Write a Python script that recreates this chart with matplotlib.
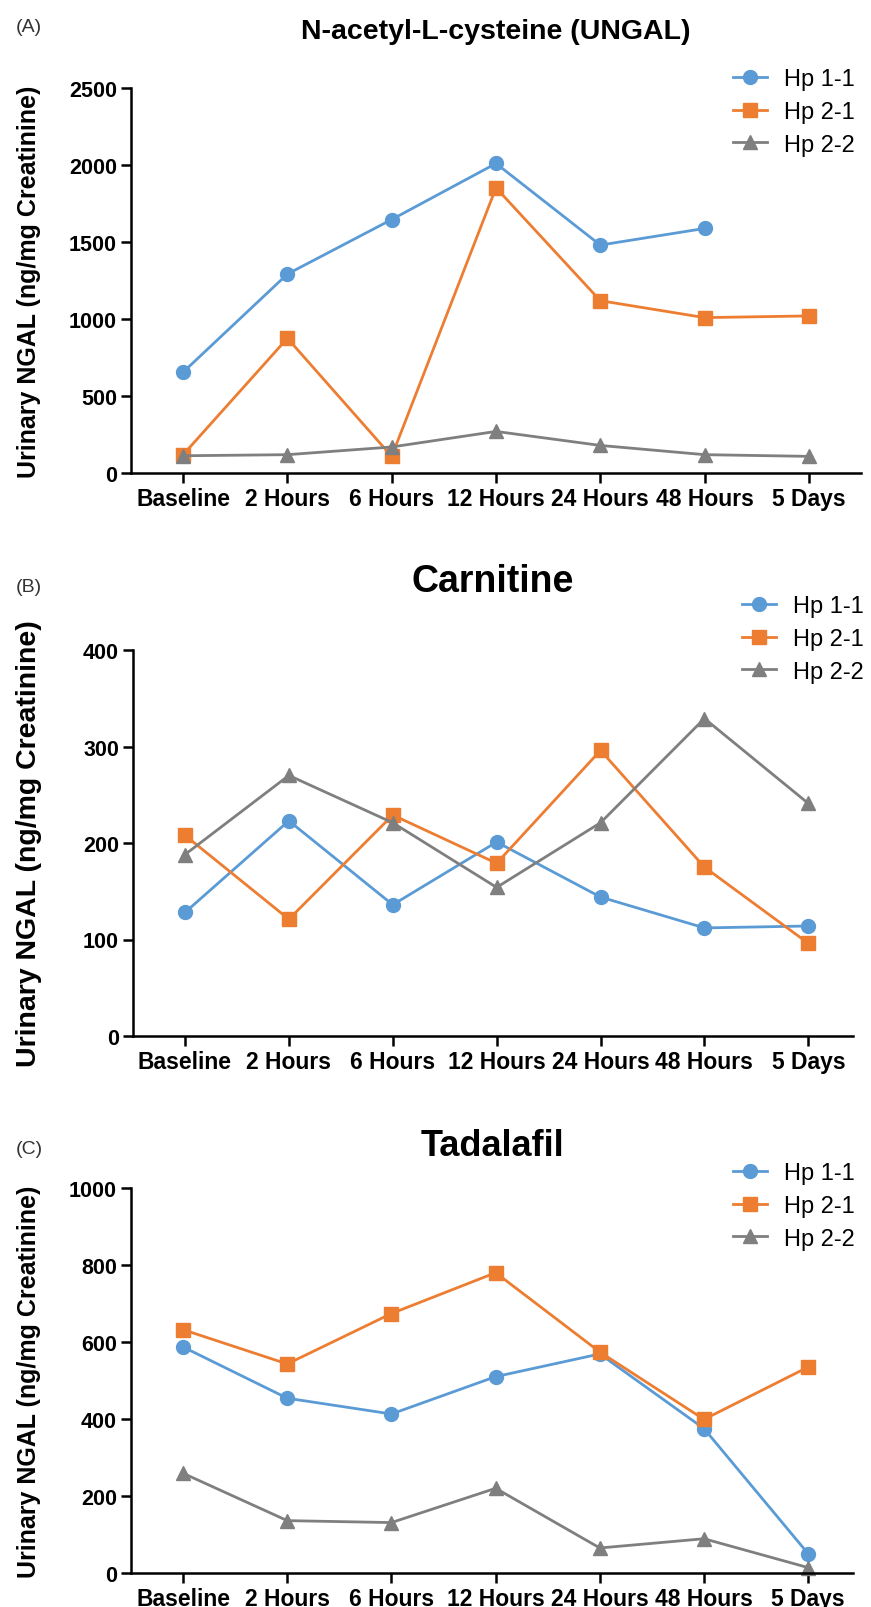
import numpy as np
import matplotlib.pyplot as plt

plt.rcParams['font.family'] = ['Liberation Sans', 'DejaVu Sans']

# time points on the x axis
timepoints = ["Baseline", "2 Hours", "6 Hours", "12 Hours",
              "24 Hours", "48 Hours", "5 Days"]
series_names = ["Hp 1-1", "Hp 2-1", "Hp 2-2"]

# (A) N-acetyl-L-cysteine
nac_hp11 = [655, 1292, 1646, 2010, 1480, 1588, np.nan]
nac_hp21 = [119, 875, 108, 1852, 1119, 1009, 1020]
nac_hp22 = [112, 119, 169, 270, 179, 119, 108]

# (B) Carnitine
car_hp11 = [128, 223, 136, 201, 144, 112, 114]
car_hp21 = [208, 121, 229, 179, 296, 175, 96]
car_hp22 = [188, 270, 221, 154, 221, 329, 241]

# (C) Tadalafil
tad_hp11 = [587, 454, 413, 510, 569, 375, 50]
tad_hp21 = [632, 543, 674, 780, 574, 399, 535]
tad_hp22 = [259, 136, 131, 220, 65, 89, 14]

colors = ["#5B9BD5", "#ED7D31", "#7F7F7F"]
markers = ["o", "s", "^"]

W, H = 871, 1608
fig = plt.figure(figsize=(W / 100, H / 100), dpi=100)


def add_axes_px(left, top, right, bottom):
    return fig.add_axes([left / W, 1 - bottom / H, (right - left) / W, (bottom - top) / H])


panels = [
    dict(tag="(A)", title="N-acetyl-L-cysteine (UNGAL)", data=[nac_hp11, nac_hp21, nac_hp22],
         ymax=2500, step=500, box=(131, 89, 861, 474), xmax=6.5, title_y=32, title_size=20.5,
         tag_y=27, ylab_size=18, leg=(733, 113)),
    dict(tag="(B)", title="Carnitine", data=[car_hp11, car_hp21, car_hp22],
         ymax=400, step=100, box=(133, 651, 853, 1037), xmax=6.43, title_y=582, title_size=27,
         tag_y=587, ylab_size=20.5, leg=(742, 640)),
    dict(tag="(C)", title="Tadalafil", data=[tad_hp11, tad_hp21, tad_hp22],
         ymax=1000, step=200, box=(131, 1189, 853, 1574), xmax=6.43, title_y=1147, title_size=26,
         tag_y=1149, ylab_size=18, leg=(733, 1207)),
]

x = np.arange(len(timepoints))

for p in panels:
    left, top, right, bottom = p["box"]
    ax = add_axes_px(left, top, right, bottom)
    for vals, name, c, m in zip(p["data"], series_names, colors, markers):
        ax.plot(x, vals, color=c, marker=m, markersize=10, linewidth=2.0,
                label=name, clip_on=False)

    ax.set_xlim(-0.5, p["xmax"])
    ax.set_ylim(0, p["ymax"])
    ax.set_yticks(np.arange(0, p["ymax"] + 1, p["step"]))
    ax.set_xticks(x)
    ax.set_xticklabels(timepoints)
    for s in ["top", "right"]:
        ax.spines[s].set_visible(False)
    for s in ["left", "bottom"]:
        ax.spines[s].set_linewidth(1.8)
    ax.tick_params(axis="both", direction="out", length=7, width=1.8, pad=3)
    ax.tick_params(axis="x", labelsize=16.5)
    ax.tick_params(axis="y", labelsize=15.5)
    for lab in ax.get_xticklabels() + ax.get_yticklabels():
        lab.set_fontweight("bold")

    cx = (left + right) / 2
    fig.text(cx / W, 1 - p["title_y"] / H, p["title"], ha="center", va="center",
             fontsize=p["title_size"], fontweight="bold")
    fig.text(16 / W, 1 - p["tag_y"] / H, p["tag"], ha="left", va="center",
             fontsize=14, color="#333333")
    fig.text(29 / W, 1 - (top + bottom) / 2 / H, "Urinary NGAL (ng/mg Creatinine)",
             rotation=90, ha="center", va="center", fontsize=p["ylab_size"],
             fontweight="bold")

    lx, ly = p["leg"]
    ax.legend(loc="center left", bbox_to_anchor=(lx / W, 1 - ly / H),
              bbox_transform=fig.transFigure, frameon=False, fontsize=17,
              handlelength=1.45, handletextpad=0.7, labelspacing=0.45,
              borderpad=0, borderaxespad=0)

fig.savefig("out.png", dpi=100)
